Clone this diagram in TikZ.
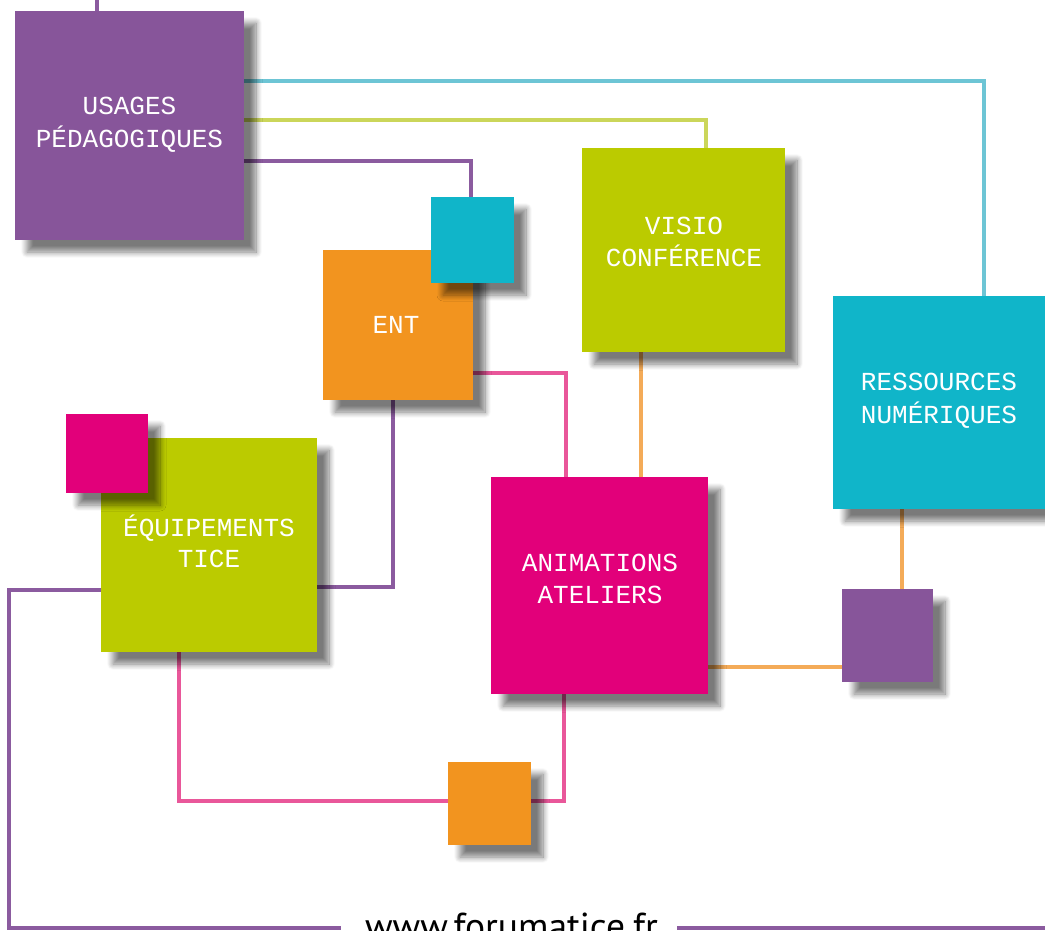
\documentclass[tikz,border=0pt]{standalone}
\usepackage{fontspec}
\newfontfamily\boxfont{Liberation Mono}
\newfontfamily\footfont{PT Sans}
\usetikzlibrary{shadows.blur}
\definecolor{bPurple}{HTML}{87559A}
\definecolor{bCyan}{HTML}{10B5C9}
\definecolor{bOrange}{HTML}{F2941F}
\definecolor{bGreen}{HTML}{BBCB00}
\definecolor{bMagenta}{HTML}{E2007A}
\definecolor{lCyan}{HTML}{6DC5D5}
\definecolor{lGreen}{HTML}{CBD65A}
\definecolor{lPurple}{HTML}{8B5B9F}
\definecolor{lPink}{HTML}{E9579A}
\definecolor{lOrange}{HTML}{F4AB58}
\begin{document}
\begin{tikzpicture}[x=1pt,y=-1pt,
  sq/.style={draw=none, inner sep=0pt, outer sep=0pt,
    blur shadow={shadow xshift=12pt, shadow yshift=-12pt, shadow blur radius=6pt, shadow blur steps=10, shadow opacity=52}},
  boxnode/.style={inner sep=0pt, outer sep=0pt},
  lbl/.style={text=white, font=\boxfont\fontsize{26}{26}\selectfont, anchor=base, inner sep=0pt},
  conn/.style={line width=3.5pt},
  foottext/.style={font=\footfont\fontsize{37.5}{37.5}\selectfont, anchor=base, inner sep=0pt, text=black}]
\useasboundingbox (0,0) rectangle (1045,930);
\path
  (129.5,125.5) node[boxnode, minimum width=229pt, minimum height=229pt] (usages) {}
  (472.5,240)   node[boxnode, minimum width=83pt, minimum height=86pt] (cyanS) {}
  (398,325)     node[boxnode, minimum width=150pt, minimum height=150pt] (ent) {}
  (683.5,250)   node[boxnode, minimum width=203pt, minimum height=204pt] (visio) {}
  (941.5,402.5) node[boxnode, minimum width=217pt, minimum height=213pt] (res) {}
  (107,453.5)   node[boxnode, minimum width=82pt, minimum height=79pt] (magS) {}
  (209,545)     node[boxnode, minimum width=216pt, minimum height=214pt] (equip) {}
  (599.5,585.5) node[boxnode, minimum width=217pt, minimum height=217pt] (anim) {}
  (887.5,635.5) node[boxnode, minimum width=91pt, minimum height=93pt] (purS) {}
  (489.5,803.5) node[boxnode, minimum width=83pt, minimum height=83pt] (oraS) {};
\node[foottext] (foot) at (511.5,939) {www.forumatice.fr};
\coordinate (fl) at (341,928);
\coordinate (fr) at (677,928);
\coordinate (top) at (97,-5);
\coordinate (rightEnd) at (1050,928);
% connectors
\draw[conn, lPurple] (usages.north -| top) -- (top);
\draw[conn, lCyan] (usages.east |- 0,81) -- (984,81) -- (res.north -| 984,0);
\draw[conn, lGreen] (usages.east |- 0,120) -- (706,120) -- (visio.north -| 706,0);
\draw[conn, lPurple] (usages.east |- 0,161) -- (471,161) -- (cyanS.north -| 471,0);
\draw[conn, lPink] (ent.east |- 0,373) -- (566,373) -- (anim.north -| 566,0);
\draw[conn, lOrange] (visio.south -| 641,0) -- (anim.north -| 641,0);
\draw[conn, lPurple] (ent.south -| 393,0) -- (393,587) -- (equip.east |- 0,587);
\draw[conn, lPurple] (equip.west |- 0,590) -- (9,590) -- (9,928) -- (fl);
\draw[conn, lPurple] (fr) -- (rightEnd);
\draw[conn, lPink] (equip.south -| 179,0) -- (179,801) -- (oraS.west |- 0,801);
\draw[conn, lPink] (oraS.east |- 0,801) -- (564,801) -- (anim.south -| 564,0);
\draw[conn, lOrange] (res.south -| 902,0) -- (purS.north -| 902,0);
\draw[conn, lOrange] (anim.east |- 0,667) -- (purS.west |- 0,667);
% boxes
\fill[sq, bPurple] (usages.north west) rectangle (usages.south east);
\fill[sq, bGreen] (visio.north west) rectangle (visio.south east);
\fill[sq, bCyan] (res.north west) rectangle (res.south east);
\fill[sq, bOrange] (ent.north west) rectangle (ent.south east);
\fill[sq, bCyan] (cyanS.north west) rectangle (cyanS.south east);
\fill[sq, bGreen] (equip.north west) rectangle (equip.south east);
\fill[sq, bMagenta] (magS.north west) rectangle (magS.south east);
\fill[sq, bMagenta] (anim.north west) rectangle (anim.south east);
\fill[sq, bPurple] (purS.north west) rectangle (purS.south east);
\fill[sq, bOrange] (oraS.north west) rectangle (oraS.south east);
% labels
\node[lbl] (usagesT1) at (129.5,114) {USAGES};
\node[lbl] (usagesT2) at (129.5,147) {PÉDAGOGIQUES};
\node[lbl] (entT) at (396,333) {ENT};
\node[lbl] (visioT1) at (684,234) {VISIO};
\node[lbl] (visioT2) at (684,266) {CONFÉRENCE};
\node[lbl] (resT1) at (939,390) {RESSOURCES};
\node[lbl] (resT2) at (939,423) {NUMÉRIQUES};
\node[lbl] (equipT1) at (209,536) {ÉQUIPEMENTS};
\node[lbl] (equipT2) at (209,567) {TICE};
\node[lbl] (animT1) at (600,571) {ANIMATIONS};
\node[lbl] (animT2) at (600,603) {ATELIERS};
\end{tikzpicture}
\end{document}
